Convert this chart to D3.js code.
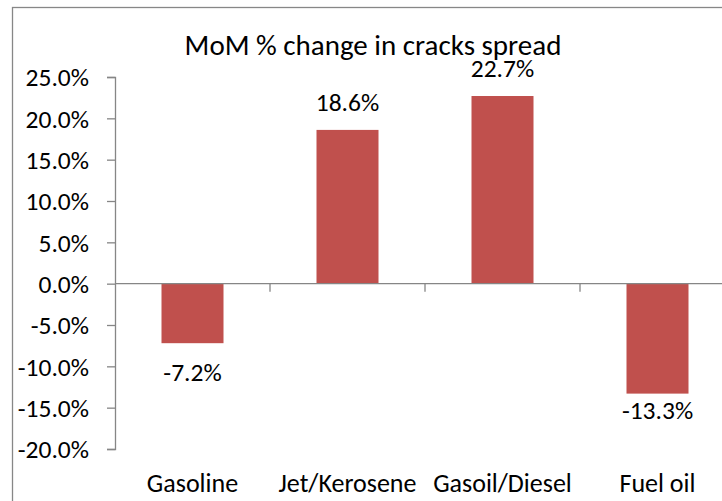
<!DOCTYPE html>
<html>
<head>
<meta charset="utf-8">
<script src="https://cdn.jsdelivr.net/npm/d3@7"></script>
<style>
  html, body { margin: 0; padding: 0; background: #fff; overflow: hidden; }
  svg { display: block; font-family: Carlito, Calibri, "Open Sans", sans-serif; }
</style>
</head>
<body>
<div id="chart"></div>
<script>
const categories = ["Gasoline", "Jet/Kerosene", "Gasoil/Diesel", "Fuel oil"]
const values = [-7.2, 18.6, 22.7, -13.3]
const yTicks = [-20, -15, -10, -5, 0, 5, 10, 15, 20, 25]
const title = "MoM % change in cracks spread"

const width = 722
const height = 501
const margin = { top: 77, right: -13, bottom: 52, left: 115 }

const svg = d3
  .select("#chart")
  .append("svg")
  .attr("width", width)
  .attr("height", height)

// chart frame (cropped on the right and bottom like the original)
svg
  .append("rect")
  .attr("x", 12.5)
  .attr("y", 7.5)
  .attr("width", 722)
  .attr("height", 520)
  .attr("fill", "#fff")
  .attr("stroke", "#878787")
  .attr("stroke-width", 1.3)

const x = d3
  .scaleBand()
  .domain(categories)
  .range([margin.left, width - margin.right])
  .paddingInner(0.6)
  .paddingOuter(0.3)

const band = d3
  .scaleBand()
  .domain(categories)
  .range([margin.left, width - margin.right])

const y = d3
  .scaleLinear()
  .domain([-20, 25])
  .range([height - margin.bottom, margin.top])

const axisColor = "#868686"
const fmt = (d) => d.toFixed(1) + "%"

// y axis
const yAxis = svg
  .append("g")
  .attr("transform", `translate(${margin.left},0)`)
  .call(d3.axisLeft(y).tickValues(yTicks).tickFormat(fmt).tickSize(8).tickSizeOuter(8).tickPadding(18))
yAxis.select(".domain").attr("stroke", axisColor).attr("stroke-width", 1.3)
yAxis.selectAll(".tick line").attr("stroke", axisColor).attr("stroke-width", 1.3)
yAxis
  .selectAll("text")
  .attr("fill", "#000")
  .style("font-family", "Carlito, Calibri, sans-serif")
  .style("font-size", "25.5px")
  .attr("dy", "0.34em")

// bars
svg
  .append("g")
  .selectAll("rect")
  .data(values)
  .join("rect")
  .attr("x", (d, i) => x(categories[i]))
  .attr("width", x.bandwidth())
  .attr("y", (d) => y(Math.max(0, d)))
  .attr("height", (d) => Math.abs(y(d) - y(0)))
  .attr("fill", "#C0504D")

// x axis at zero
const xAxis = svg.append("g").attr("transform", `translate(0,${y(0)})`)
xAxis
  .append("line")
  .attr("x1", margin.left)
  .attr("x2", width - margin.right)
  .attr("stroke", axisColor)
  .attr("stroke-width", 1.3)
xAxis
  .selectAll("line.tick")
  .data(categories.slice(1))
  .join("line")
  .attr("class", "tick")
  .attr("x1", (d) => band(d))
  .attr("x2", (d) => band(d))
  .attr("y1", 0)
  .attr("y2", 8)
  .attr("stroke", axisColor)
  .attr("stroke-width", 1.3)

// category labels
svg
  .append("g")
  .selectAll("text")
  .data(categories)
  .join("text")
  .attr("x", (d) => band(d) + band.bandwidth() / 2)
  .attr("y", 492)
  .attr("text-anchor", "middle")
  .style("font-size", "26px")
  .text((d) => d)

// value labels
svg
  .append("g")
  .selectAll("text")
  .data(values)
  .join("text")
  .attr("x", (d, i) => band(categories[i]) + band.bandwidth() / 2)
  .attr("y", (d) => (d >= 0 ? y(d) - 19 : y(d) + (d < -10 ? 25 : 38)))
  .attr("text-anchor", "middle")
  .style("font-size", "25.5px")
  .text((d) => fmt(d))

// title
svg
  .append("text")
  .attr("x", 373)
  .attr("y", 55)
  .attr("text-anchor", "middle")
  .style("font-size", "29px")
  .text(title)
</script>
</body>
</html>
